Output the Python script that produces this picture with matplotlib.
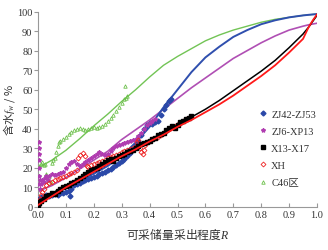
import matplotlib.pyplot as plt
import numpy as np

plt.rcParams['font.family'] = ['Liberation Serif', 'Noto Sans CJK SC']
plt.rcParams['mathtext.fontset'] = 'custom'
plt.rcParams['mathtext.rm'] = 'Noto Sans CJK SC'
plt.rcParams['mathtext.it'] = 'Liberation Serif:italic'
plt.rcParams['mathtext.bf'] = 'Liberation Serif:bold'

# fitted curves (R, fw)
fit_r = [0.0, 0.05, 0.1, 0.15, 0.2, 0.25, 0.3, 0.35, 0.4, 0.45, 0.5, 0.55, 0.6, 0.65,
         0.7, 0.75, 0.8, 0.85, 0.9, 0.95, 0.97, 0.985, 1.0]
fit_blue = [4, 7, 10, 13.5, 17, 21, 26, 33, 41, 51, 60, 69, 76.5, 82, 87, 90.5, 93.5, 95.5,
            97, 98, 98.3, 98.5, 98.7]
fit_mag = [8, 11, 15, 19.5, 24, 28.5, 34.5, 39.5, 44.5, 50, 55.5, 61, 66, 71, 76, 80, 84,
           87.5, 90.5, 92.5, 93.2, 93.6, 94]
fit_black = [3, 7, 11, 15, 19, 23, 27, 30.5, 34, 38, 42, 46, 50, 54.5, 59.5, 64.5, 69.5,
             75, 81.5, 88.5, 92, 95, 98]
fit_red = [1, 5.5, 10, 14, 18, 22, 26, 29.5, 33.5, 37, 41, 44.5, 48.5, 52.5, 57, 62, 67,
           72.5, 79, 86, 92, 95.5, 98.5]
fit_green = [20, 24, 29, 35, 41.5, 47.5, 54, 60, 66.5, 72.5, 77, 81, 85, 88, 90.5, 92.5,
             94.5, 96, 97, 98, 98.3, 98.5, 98.7]

# measured data
blue_r = [0.0, 0.005, 0.01, 0.02, 0.03, 0.04, 0.05, 0.06, 0.07, 0.08, 0.09, 0.10, 0.11, 0.115,
          0.12, 0.13, 0.14, 0.15, 0.16, 0.17, 0.18, 0.19, 0.20, 0.21, 0.22, 0.23, 0.24, 0.25,
          0.26, 0.27, 0.28, 0.29, 0.30, 0.31, 0.32, 0.33, 0.34, 0.35, 0.36, 0.37, 0.38, 0.39,
          0.40, 0.41, 0.42, 0.43, 0.44, 0.45, 0.46, 0.47, 0.475]
blue_fw = [2, 4, 5, 5, 6, 5.5, 6, 6.5, 6, 7, 7, 7.5, 8, 5.5,
           9, 11, 12, 12.5, 13.5, 14, 14.5, 15, 15.5, 16, 17, 17.5, 18, 19,
           19.5, 20.5, 21.5, 22.5, 23.5, 24.5, 26, 27.5, 29.5, 31.5, 34, 37, 40, 42,
           43, 42.5, 43.5, 44, 47, 50, 52, 54, 55]

mag_r = [0.002, 0.002, 0.003, 0.003, 0.004, 0.004, 0.005, 0.006, 0.008, 0.01, 0.015, 0.02,
         0.025, 0.03, 0.035, 0.04, 0.05, 0.06, 0.07, 0.08, 0.09, 0.10, 0.11, 0.12, 0.13, 0.14,
         0.15, 0.16, 0.17, 0.18, 0.19, 0.20, 0.21, 0.22, 0.23, 0.24, 0.25, 0.26, 0.27, 0.28,
         0.29, 0.30, 0.31, 0.32, 0.33, 0.34, 0.35, 0.36, 0.37, 0.38, 0.39, 0.40, 0.41, 0.42]
mag_fw = [33, 30, 27, 24, 20, 16, 12, 9, 14, 12, 14, 13,
          15, 16, 14, 16, 17, 16.5, 17, 17.5, 18, 20, 22, 23, 23.5, 22,
          21, 22, 23, 24, 25, 26, 27, 28, 27, 26.5, 27, 28.5, 30, 31,
          31.5, 32, 32.5, 33.5, 34, 34.5, 35, 36.5, 38, 40, 42, 43, 44, 45]

black_r = [0.0, 0.005, 0.01, 0.02, 0.03, 0.04, 0.05, 0.06, 0.07, 0.08, 0.09, 0.10, 0.11, 0.12,
           0.13, 0.14, 0.15, 0.16, 0.17, 0.18, 0.19, 0.20, 0.21, 0.22, 0.23, 0.24, 0.25, 0.26,
           0.27, 0.28, 0.29, 0.30, 0.31, 0.32, 0.33, 0.34, 0.35, 0.36, 0.37, 0.38, 0.39, 0.40,
           0.41, 0.42, 0.43, 0.44, 0.45, 0.46, 0.47, 0.48, 0.49, 0.50, 0.51, 0.52, 0.53, 0.54,
           0.55]
black_fw = [1, 2, 3, 4, 5.5, 6, 7, 6.5, 8, 9, 10, 10.5, 11, 12.5,
            13, 14, 15, 16, 17, 18, 19, 19.5, 20, 21, 22, 23, 24, 24.5,
            23.5, 25, 26, 26.5, 27, 28, 28.5, 29, 30, 31, 32, 32.5, 33.5, 34,
            35, 35.5, 37, 37.5, 38, 39.5, 40.5, 41.5, 40.5, 42, 43.5, 44, 45, 45.5,
            46.5]

red_r = [0.0, 0.003, 0.006, 0.01, 0.015, 0.02, 0.03, 0.04, 0.05, 0.06, 0.07, 0.08, 0.09, 0.10,
         0.11, 0.12, 0.13, 0.14, 0.145, 0.15, 0.16, 0.17, 0.175, 0.18, 0.19, 0.20, 0.21, 0.22,
         0.23, 0.24, 0.25, 0.26, 0.27, 0.28, 0.29, 0.30, 0.31, 0.32, 0.33, 0.34, 0.35, 0.355,
         0.36, 0.365, 0.37, 0.375, 0.38, 0.385, 0.39, 0.40, 0.41, 0.42, 0.43, 0.44, 0.45, 0.46,
         0.47, 0.48, 0.49, 0.50, 0.51, 0.52, 0.53]
red_fw = [0.5, 2, 4, 6, 7.5, 9, 11, 12.5, 13, 14, 14.5, 15, 15.5, 16,
          17, 17.5, 18, 19, 25, 26.5, 27.5, 26, 21, 20.5, 21.5, 22, 22.5, 23,
          23.5, 24, 25, 25.5, 26, 26.5, 27, 28, 28.5, 29, 29.5, 30, 31, 33,
          34.5, 30, 28, 27, 29, 31.5, 33, 34, 35, 35.5, 36, 37, 38, 39,
          40, 41, 41.5, 42.5, 43, 44, 45]

green_r = [0.005, 0.01, 0.015, 0.02, 0.025, 0.03, 0.035, 0.04, 0.045, 0.05, 0.055, 0.06, 0.065,
           0.07, 0.075, 0.08, 0.09, 0.10, 0.11, 0.12, 0.13, 0.14, 0.15, 0.16, 0.17, 0.18, 0.19,
           0.20, 0.21, 0.22, 0.23, 0.24, 0.25, 0.26, 0.27, 0.28, 0.29, 0.30, 0.31, 0.315, 0.32,
           0.312]
green_fw = [21, 22, 23, 21.5, 22, 17, 14, 16, 13, 22.5, 24, 25, 28,
            31, 33, 34, 35, 36, 37.5, 38.5, 39.5, 40, 40.5, 40, 39.5, 40, 40.5,
            41, 40.5, 41, 41.5, 42.5, 44, 45.5, 47, 49, 51, 53, 55, 56, 57,
            62]

fig = plt.figure(figsize=(3.28, 2.51), dpi=100)
ax = fig.add_axes([38/328, 43/251, 279/328, 195.5/251])

ax.plot(fit_r, fit_green, color='#72c455', lw=1.0, zorder=2)
ax.plot(fit_r, fit_mag, color='#b04fb4', lw=1.2, zorder=2)
ax.plot(fit_r, fit_blue, color='#2f4fae', lw=1.4, zorder=2)

ax.plot(green_r, green_fw, '^', color='#6cc04a', mfc='none', ms=2.5, mew=0.6, ls='none',
        label='C46区', zorder=3)
ax.plot(blue_r, blue_fw, 'D', color='#2a48a8', ms=2.5, ls='none', label='ZJ42-ZJ53', zorder=3)
ax.plot(mag_r, mag_fw, '*', color='#b03cb0', ms=3, ls='none', label='ZJ6-XP13', zorder=3)
ax.plot(red_r, red_fw, 'D', color='#ee2222', mfc='none', ms=2.5, mew=0.6, ls='none',
        label='XH', zorder=4)
ax.plot(black_r, black_fw, 's', color='black', ms=2.2, ls='none', label='X13-X17', zorder=4)

ax.plot(fit_r, fit_black, color='black', lw=1.1, zorder=5)
ax.plot(fit_r, fit_red, color='#ff1a1a', lw=1.3, zorder=5)

ax.set_xlim(0, 1.0)
ax.set_ylim(0, 100)
ax.set_xticks(np.arange(0, 1.01, 0.1))
ax.set_yticks(np.arange(0, 101, 10))
ax.set_xticklabels(['%.1f' % v for v in np.arange(0, 1.01, 0.1)])
for s in ['top', 'right']:
    ax.spines[s].set_visible(False)
for s in ['left', 'bottom']:
    ax.spines[s].set_color('#999999')
    ax.spines[s].set_linewidth(0.8)
ax.tick_params(axis='x', direction='in', length=3, color='#999999', labelsize=7.5,
               labelcolor='#333333', pad=2)
ax.tick_params(axis='y', direction='out', length=3, color='#999999', labelsize=7.5,
               labelcolor='#333333', pad=1)

ax.set_xlabel(r'$\mathrm{可采储量采出程度}R$', fontsize=8.5, color='#333333', labelpad=5)
ax.set_ylabel(r'$\mathrm{含水}f_w\ \mathrm{/\ \%}$', fontsize=8, color='#333333')
ax.yaxis.set_label_coords(-0.074, 0.5)

h, l = ax.get_legend_handles_labels()
order = ['ZJ42-ZJ53', 'ZJ6-XP13', 'X13-X17', 'XH', 'C46区']
hh = [h[l.index(o)] for o in order]
ax.legend(hh, order, loc='upper left', bbox_to_anchor=(0.78, 0.52), frameon=False,
          fontsize=7.5, handlelength=0.6, handletextpad=0.5, labelspacing=0.75,
          borderaxespad=0, markerscale=1.0, labelcolor='#333333')

fig.savefig('out.png', dpi=100)
